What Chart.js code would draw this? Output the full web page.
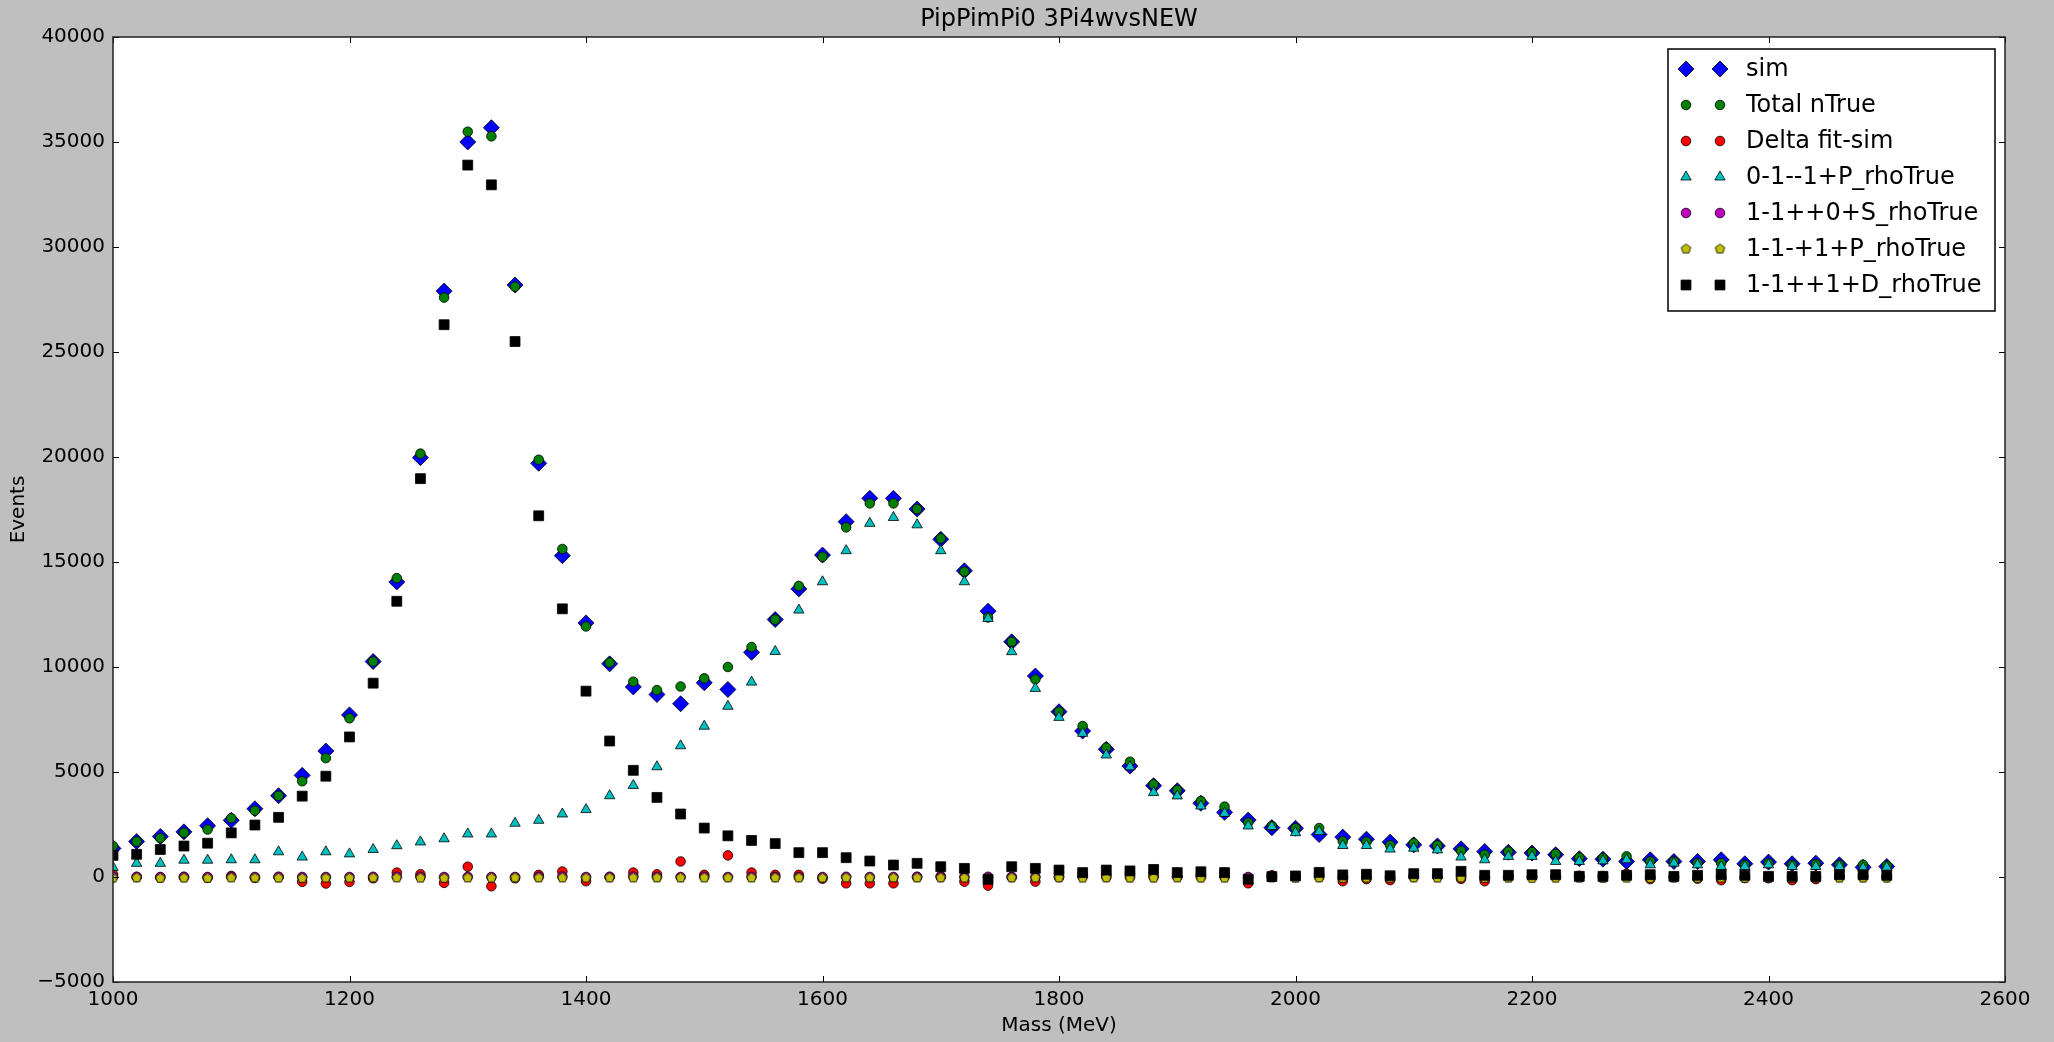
<!DOCTYPE html>
<html>
<head>
<meta charset="utf-8">
<title>PipPimPi0 3Pi4wvsNEW</title>
<script src="https://cdn.jsdelivr.net/npm/chart.js"></script>
<style>
  html, body { margin: 0; padding: 0; background: #bfbfbf; }
  #wrap { width: 2054px; height: 1042px; }
</style>
</head>
<body>
<div id="wrap"><canvas id="massChart" width="2054" height="1042"></canvas></div>
<script>
// bin centres (MeV)
const mass = [1000, 1020, 1040, 1060, 1080, 1100, 1120, 1140, 1160, 1180,
  1200, 1220, 1240, 1260, 1280, 1300, 1320, 1340, 1360, 1380,
  1400, 1420, 1440, 1460, 1480, 1500, 1520, 1540, 1560, 1580,
  1600, 1620, 1640, 1660, 1680, 1700, 1720, 1740, 1760, 1780,
  1800, 1820, 1840, 1860, 1880, 1900, 1920, 1940, 1960, 1980,
  2000, 2020, 2040, 2060, 2080, 2100, 2120, 2140, 2160, 2180,
  2200, 2220, 2240, 2260, 2280, 2300, 2320, 2340, 2360, 2380,
  2400, 2420, 2440, 2460, 2480, 2500];

const sim = [1360, 1690, 1930, 2150, 2440, 2700, 3250, 3870, 4840, 6000,
  7720, 10260, 14050, 19970, 27900, 35000, 35680, 28190, 19700, 15300,
  12100, 10150, 9050, 8690, 8250, 9250, 8930, 10700, 12260, 13720,
  15330, 16920, 18030, 18030, 17520, 16080, 14580, 12660, 11200, 9570,
  7870, 6950, 6080, 5280, 4350, 4110, 3510, 3080, 2710, 2350,
  2320, 2020, 1900, 1800, 1660, 1530, 1480, 1340, 1210, 1180,
  1140, 1060, 870, 850, 740, 820, 740, 740, 820, 630,
  710, 630, 660, 580, 460, 500];

const totalTrue = [1475, 1690, 1850, 2110, 2260, 2800, 3160, 3870, 4560, 5660,
  7560, 10260, 14230, 20160, 27590, 35490, 35270, 28110, 19870, 15620,
  11930, 10210, 9300, 8900, 9070, 9460, 10000, 10950, 12260, 13860,
  15250, 16650, 17790, 17790, 17520, 16120, 14540, 12360, 11200, 9410,
  7870, 7190, 6160, 5490, 4410, 4140, 3620, 3350, 2590, 2430,
  2320, 2330, 1700, 1680, 1510, 1610, 1500, 1250, 1060, 1210,
  1180, 1090, 930, 900, 980, 740, 740, 660, 660, 580,
  660, 580, 620, 580, 580, 540];

const deltaFitSim = [130, 0, -20, 0, -30, 50, -40, 0, -230, -310,
  -230, -60, 210, 130, -280, 490, -440, -60, 100, 260,
  -200, 0, 210, 130, 740, 100, 1030, 210, 100, 100,
  -80, -300, -300, -300, 0, 40, -220, -410, 0, -220,
  0, 150, 80, 150, 60, 30, 100, 200, -300, 80,
  0, 150, -200, -100, -150, 80, 20, -90, -200, 30,
  40, 30, 60, 50, 150, -100, 0, -80, -150, -50,
  -60, -150, -100, 0, 80, 0];

const wave01P = [460, 650, 650, 800, 800, 820, 820, 1200, 950, 1200,
  1100, 1310, 1490, 1670, 1820, 2050, 2050, 2560, 2700, 3000,
  3210, 3870, 4360, 5250, 6250, 7180, 8130, 9280, 10740, 12710,
  14060, 15540, 16840, 17120, 16770, 15540, 14060, 12310, 10730, 8980,
  7600, 6840, 5810, 5250, 4020, 3860, 3380, 3030, 2430, 2400,
  2110, 2160, 1500, 1500, 1330, 1370, 1290, 950, 820, 980,
  980, 740, 740, 770, 820, 580, 660, 580, 500, 500,
  580, 500, 500, 500, 430, 460];

const wave11S = [20, 10, 0, 10, 0, 10, 0, 10, 0, 0,
  0, 10, 20, 10, 0, 10, 0, 0, 10, 20,
  0, 10, 20, 10, 0, 10, 0, 10, 0, 0,
  0, 10, 0, 0, 10, 0, 0, 10, 0, 0,
  0, 10, 0, 0, 0, 10, 0, 0, 0, 10,
  0, 0, 10, 0, 0, 0, 10, 0, 0, 0,
  10, 0, 0, 0, 10, 0, 0, 0, 0, 10,
  0, 0, 0, 10, 0, 0];

const wave11P = [-50, -40, -60, -50, -60, -40, -50, -50, -60, -50,
  -50, -40, -40, -50, -60, -40, -50, -40, -40, -40,
  -50, -40, -40, -40, -40, -40, -40, -40, -40, -40,
  -50, -40, -40, -40, -40, -40, -50, -60, -40, -40,
  -40, -50, -40, -50, -50, -40, -50, -50, -60, -40,
  -50, -40, -60, -50, -60, -40, -50, -40, -60, -50,
  -60, -50, -50, -60, -50, -60, -50, -60, -50, -60,
  -50, -60, -50, -50, -50, -50];

const wave11D = [1030, 1080, 1310, 1475, 1610, 2100, 2475, 2840, 3850, 4800,
  6670, 9230, 13130, 18970, 26300, 33900, 32960, 25500, 17200, 12770,
  8850, 6475, 5080, 3790, 3000, 2330, 1960, 1740, 1590, 1160,
  1160, 920, 760, 570, 650, 490, 410, -110, 490, 410,
  330, 210, 330, 290, 360, 210, 250, 210, -110, 20,
  50, 220, 100, 130, 60, 160, 160, 270, 80, 80,
  110, 110, 30, 30, 80, 110, 30, 80, 110, 80,
  30, 30, 30, 110, 110, 80];

const xTickValues = [1000, 1200, 1400, 1600, 1800, 2000, 2200, 2400, 2600];
const yTickValues = [-5000, 0, 5000, 10000, 15000, 20000, 25000, 30000, 35000, 40000];

// pentagon marker (Chart.js has no built-in one)
function pentagon(r, fill) {
  const c = document.createElement('canvas');
  const s = Math.ceil(r * 2 + 3);
  c.width = s; c.height = s;
  const g = c.getContext('2d');
  g.beginPath();
  for (let i = 0; i < 5; i++) {
    const a = -Math.PI / 2 + i * 2 * Math.PI / 5;
    g.lineTo(s / 2 + r * Math.cos(a), s / 2 + r * Math.sin(a));
  }
  g.closePath();
  g.fillStyle = fill; g.fill();
  g.lineWidth = 0.8; g.strokeStyle = '#000'; g.stroke();
  return c;
}

const series = [
  { label: 'sim', values: sim, color: '#0000ff', style: 'rectRot', r: 8 },
  { label: 'Total nTrue', values: totalTrue, color: '#008000', style: 'circle', r: 4.8 },
  { label: 'Delta fit-sim', values: deltaFitSim, color: '#ff0000', style: 'circle', r: 4.8 },
  { label: '0-1--1+P_rhoTrue', values: wave01P, color: '#00bfbf', style: 'triangle', r: 6 },
  { label: '1-1++0+S_rhoTrue', values: wave11S, color: '#bf00bf', style: 'circle', r: 4.8 },
  { label: '1-1-+1+P_rhoTrue', values: wave11P, color: '#bfbf00', style: pentagon(5, '#bfbf00'), r: 5 },
  { label: '1-1++1+D_rhoTrue', values: wave11D, color: '#000000', style: 'rect', r: 7 }
];

const datasets = series.map((s, i) => ({
  label: s.label,
  data: mass.map((m, j) => ({ x: m, y: s.values[j] })),
  showLine: false,
  pointStyle: s.style,
  pointRadius: s.r,
  pointBackgroundColor: s.color,
  pointBorderColor: '#000',
  pointBorderWidth: 0.8,
  order: series.length - i
}));

Chart.defaults.font.family = 'DejaVu Sans';
Chart.defaults.color = '#000';

const framePlugin = {
  id: 'frame',
  beforeDraw(chart) {
    const a = chart.chartArea, ctx = chart.ctx;
    ctx.save();
    ctx.fillStyle = '#ffffff';
    ctx.fillRect(a.left, a.top, a.right - a.left, a.bottom - a.top);
    ctx.restore();
  },
  afterDraw(chart) {
    const a = chart.chartArea, ctx = chart.ctx;
    const xs = chart.scales.x, ys = chart.scales.y;
    ctx.save();
    // inward ticks on all four sides
    ctx.strokeStyle = '#000';
    ctx.lineWidth = 1;
    ctx.beginPath();
    xTickValues.forEach(v => {
      const px = Math.round(xs.getPixelForValue(v)) + 0.5;
      ctx.moveTo(px, a.bottom); ctx.lineTo(px, a.bottom - 6);
      ctx.moveTo(px, a.top); ctx.lineTo(px, a.top + 6);
    });
    yTickValues.forEach(v => {
      const py = Math.round(ys.getPixelForValue(v)) + 0.5;
      ctx.moveTo(a.left, py); ctx.lineTo(a.left + 6, py);
      ctx.moveTo(a.right, py); ctx.lineTo(a.right - 6, py);
    });
    ctx.stroke();
    ctx.lineWidth = 1.5;
    ctx.strokeStyle = '#222';
    ctx.strokeRect(a.left, a.top, a.right - a.left, a.bottom - a.top);

    // title over the plot area
    ctx.fillStyle = '#000';
    ctx.font = '24px "DejaVu Sans"';
    ctx.textAlign = 'center';
    ctx.textBaseline = 'middle';
    ctx.fillText('PipPimPi0 3Pi4wvsNEW', (a.left + a.right) / 2, 20);

    // legend, two markers per entry
    const bx = 1668, by = 49, bw = 327, bh = 262;
    ctx.fillStyle = '#fff';
    ctx.fillRect(bx, by, bw, bh);
    ctx.lineWidth = 1.5;
    ctx.strokeStyle = '#000';
    ctx.strokeRect(bx, by, bw, bh);
    ctx.font = '24px "DejaVu Sans"';
    ctx.textAlign = 'left';
    chart.data.datasets.forEach((ds, i) => {
      const y = by + 20 + i * 36;
      [bx + 18, bx + 52].forEach(x => {
        ctx.fillStyle = ds.pointBackgroundColor;
        ctx.strokeStyle = ds.pointBorderColor;
        ctx.lineWidth = ds.pointBorderWidth;
        Chart.helpers.drawPoint(ctx, {
          pointStyle: ds.pointStyle, rotation: 0,
          radius: ds.pointRadius, borderWidth: ds.pointBorderWidth
        }, x, y);
      });
      ctx.fillStyle = '#000';
      ctx.fillText(ds.label, bx + 78, y + 1);
    });
    ctx.restore();
  }
};

const fmt = v => (v < 0 ? '\u2212' + Math.abs(v) : String(v));

new Chart(document.getElementById('massChart').getContext('2d'), {
  type: 'scatter',
  data: { datasets: datasets },
  options: {
    responsive: false,
    animation: false,
    layout: { padding: { left: 0, right: 49, top: 37, bottom: 0 } },
    plugins: {
      legend: { display: false },
      tooltip: { enabled: false },
      title: { display: false }
    },
    scales: {
      x: {
        type: 'linear', min: 1000, max: 2600,
        grid: { display: false, drawTicks: false },
        border: { display: false },
        ticks: { stepSize: 200, padding: 6, maxRotation: 0, font: { size: 20 }, callback: fmt },
        title: { display: true, text: 'Mass (MeV)', font: { size: 20 }, padding: { top: 0, bottom: 4 } },
        afterFit(s) { s.height = 60; }
      },
      y: {
        type: 'linear', min: -5000, max: 40000,
        grid: { display: false, drawTicks: false },
        border: { display: false },
        ticks: { stepSize: 5000, padding: 8, font: { size: 20 }, callback: fmt },
        title: { display: true, text: 'Events', font: { size: 20 }, padding: { top: 7, bottom: 0 } },
        afterFit(s) { s.width = 113; }
      }
    }
  },
  plugins: [framePlugin]
});
</script>
</body>
</html>
